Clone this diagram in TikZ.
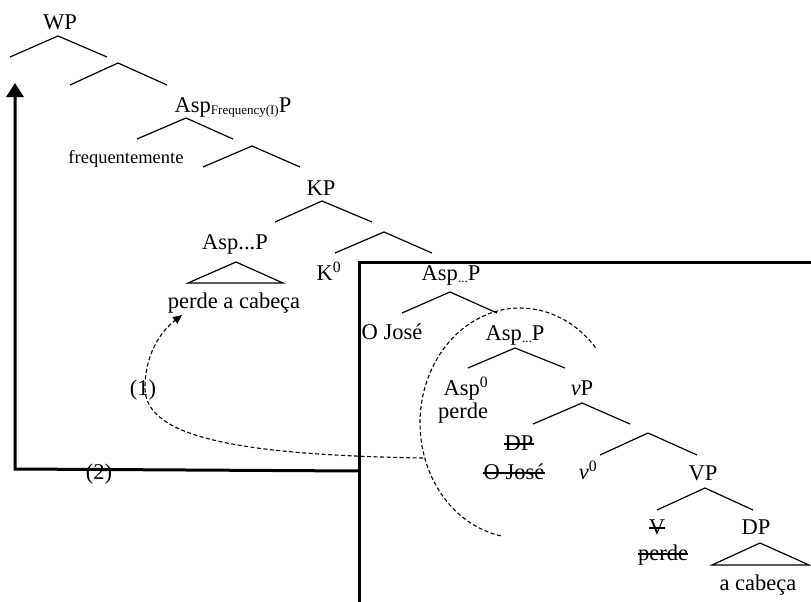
\documentclass[tikz,border=0pt]{standalone}
\usepackage{fontspec}
\setmainfont{Liberation Serif}
\usetikzlibrary{arrows.meta}

% a binary branching: apex (x,y), feet at left x / right x on one line
\newcommand\fork[6]{%
  \coordinate (#1-t) at (#2,#3);
  \coordinate (#1-l) at (#4,#6);
  \coordinate (#1-r) at (#5,#6);
  \draw[branch] (#1-l) -- (#1-t) -- (#1-r);}
% a closed triangle over an unanalysed constituent
\newcommand\roof[6]{%
  \coordinate (#1-t) at (#2,#3);
  \coordinate (#1-l) at (#4,#6);
  \coordinate (#1-r) at (#5,#6);
  \draw[branch] (#1-l) -- (#1-t) -- (#1-r) -- cycle;}
% line through a deleted copy
\newcommand\strikeout[1]{%
  \draw[strike] ([yshift=6pt]#1.base west) -- ([yshift=6pt]#1.base east);}
\newcommand\lowsub[1]{\raisebox{-2pt}{\fontsize{13}{13}\selectfont #1}}

\tikzset{
  lbl/.style={anchor=base, inner sep=0pt, font=\fontsize{22.5}{26}\selectfont},
  smalllbl/.style={lbl, font=\fontsize{18.5}{22}\selectfont},
  branch/.style={line width=1.2pt, line join=miter},
  strike/.style={line width=1.1pt},
  frame/.style={line width=3pt},
  move/.style={line width=1.1pt, dash pattern=on 4pt off 2.5pt},
}

\begin{document}
\begin{tikzpicture}[x=1pt,y=-1pt]
\useasboundingbox (0,0) rectangle (811,602);

% upper spine
\node[lbl] (wp) at (60,30) {WP};
\fork{wp}{58}{36}{10}{107}{57}
\fork{b1}{118}{63}{70}{167}{85}
\node[lbl] (aspf) at (233,112) {Asp\lowsub{Frequency(I)}P};
\fork{asf}{186}{118}{137}{233}{139}
\node[smalllbl] (freq) at (126,163) {frequentemente};
\fork{b2}{252}{146}{203}{300}{167}
\node[lbl] (kp) at (321,195) {KP};
\fork{kp}{322}{201}{275}{372}{222}
\fork{b3}{384}{232}{335}{432}{253}
\node[lbl] (aspx) at (235,249) {Asp...P};
\roof{asp1}{236}{262}{188}{283}{283}
\node[lbl] (pac) at (234,308) {perde a cabeça};
\node[lbl] (k0) at (329,280) {K\textsuperscript{0}};

% boxed subtree
\coordinate (boxtr) at (813,262);
\coordinate (boxtl) at (359,262);
\coordinate (boxbl) at (359,604);
\draw[frame] (boxtr) -- (boxtl) -- (boxbl);

\node[lbl] (aspA) at (451,280) {Asp\lowsub{...}P};
\fork{aspA}{450}{292}{402}{497}{313}
\node[lbl] (ojose) at (392,339) {O José};
\node[lbl] (aspB) at (515,340) {Asp\lowsub{...}P};
\fork{aspB}{515}{348}{468}{565}{368}
\node[lbl] (asp0) at (466,395) {Asp\textsuperscript{0}};
\node[lbl] (perde1) at (463,418) {perde};
\node[lbl] (vp) at (582,395) {\textit{v}P};
\fork{vp}{582}{403}{533}{630}{424}
\fork{b4}{648}{433}{600}{697}{455}
\node[lbl] (dpx) at (519,450) {DP};
\strikeout{dpx}
\node[lbl] (ojosex) at (514,479) {O José};
\strikeout{ojosex}
\node[lbl] (v0) at (588,479) {\textit{v}\textsuperscript{0}};
\node[lbl] (vpp) at (703,480) {VP};
\fork{vpp}{705}{488}{657}{753}{510}
\node[lbl] (vx) at (657,534) {V};
\strikeout{vx}
\node[lbl] (perdex) at (663,560) {perde};
\strikeout{perdex}
\node[lbl] (dp) at (756,534) {DP};
\roof{dp}{760}{543}{712}{809}{565}
\node[lbl] (acab) at (758,590) {a cabeça};

% dashed arc round the moved constituent
\draw[move] plot[domain=41:260, samples=90] ({520+100*cos(\x)},{423-115*sin(\x)});

% movement (1)
\coordinate (m1s) at (423,458);
\coordinate (m1e) at (182,315);
\draw[move, -{Triangle[length=9pt,width=8pt]}]
  (m1s) .. controls (250,455) and (145,440) .. (145,388)
        .. controls (145,355) and (160,332) .. (m1e);
\node[lbl] (lab1) at (143,395) {(1)};

% movement (2)
\coordinate (m2s) at (359,471);
\coordinate (m2c) at (15,469);
\coordinate (m2e) at (15,83);
\draw[frame, -{Triangle[length=14pt,width=17pt]}] (m2s) -- (m2c) -- (m2e);
\node[lbl] (lab2) at (99,479) {(2)};
\end{tikzpicture}
\end{document}
